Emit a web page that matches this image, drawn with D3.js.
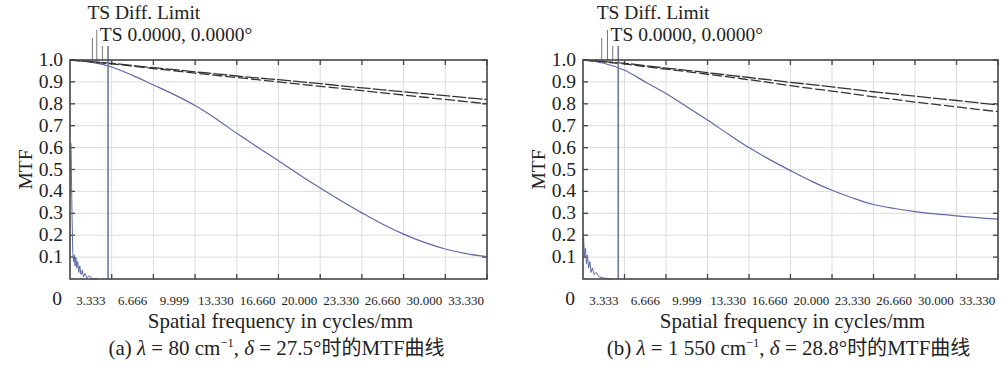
<!DOCTYPE html>
<html>
<head>
<meta charset="utf-8">
<script src="https://cdn.jsdelivr.net/npm/d3@7"></script>
<style>
  body { margin: 0; background: #fff; }
  svg text { font-family: "Liberation Serif", "Times New Roman", serif; fill: #222; }
  .cjk { font-family: "Noto Sans CJK SC", sans-serif; }
</style>
</head>
<body>
<div id="chart"></div>
<script>
// spatial frequency sample points (cycles/mm)
const freq = [0, 1.667, 3.333, 5, 6.666, 8.333, 9.999, 11.66, 13.33, 15, 16.66,
  18.33, 20, 21.66, 23.33, 25, 26.66, 28.33, 30, 31.66, 33.33];
const tickFreq = [3.333, 6.666, 9.999, 13.33, 16.66, 20, 23.33, 26.66, 30, 33.33];
const tickLabels = ['3.333', '6.666', '9.999', '13.330', '16.660', '20.000',
  '23.330', '26.660', '30.000', '33.330'];
const yTicks = [0.1, 0.2, 0.3, 0.4, 0.5, 0.6, 0.7, 0.8, 0.9, 1.0];

// (a) lambda = 80 cm-1
const aDiffT = [1, 0.993, 0.985, 0.975, 0.965, 0.956, 0.946, 0.937, 0.927, 0.918, 0.91,
  0.901, 0.892, 0.882, 0.873, 0.864, 0.855, 0.846, 0.837, 0.828, 0.82];
const aDiffS = [1, 0.991, 0.982, 0.972, 0.961, 0.951, 0.94, 0.93, 0.92, 0.91, 0.9,
  0.89, 0.88, 0.87, 0.86, 0.85, 0.84, 0.83, 0.82, 0.81, 0.80];
const aMtf = [1, 0.99, 0.968, 0.93, 0.886, 0.842, 0.792, 0.732, 0.665, 0.602, 0.54,
  0.476, 0.415, 0.357, 0.302, 0.25, 0.205, 0.167, 0.137, 0.116, 0.102];
const aNoiseF = [0.08, 0.16, 0.22, 0.28, 0.34, 0.40, 0.47, 0.54, 0.62, 0.70, 0.78,
  0.88, 0.98, 1.08, 1.2, 1.35, 1.55, 1.8, 2.2];
const aNoiseV = [0.62, 0.30, 0.12, 0.08, 0.11, 0.06, 0.10, 0.05, 0.08, 0.03, 0.06,
  0.02, 0.04, 0.01, 0.025, 0.005, 0.015, 0.0, 0.0];
const aMarks = [1.79, 2.14, 2.59, 3.04];

// (b) lambda = 1 550 cm-1
const bDiffT = [1, 0.993, 0.985, 0.974, 0.963, 0.953, 0.942, 0.931, 0.92, 0.909, 0.898,
  0.888, 0.877, 0.866, 0.855, 0.845, 0.835, 0.825, 0.815, 0.805, 0.795];
const bDiffS = [1, 0.991, 0.982, 0.97, 0.958, 0.947, 0.935, 0.923, 0.91, 0.897, 0.883,
  0.87, 0.858, 0.845, 0.832, 0.82, 0.808, 0.797, 0.786, 0.775, 0.764];
const bMtf = [1, 0.985, 0.953, 0.90, 0.847, 0.787, 0.726, 0.662, 0.60, 0.545, 0.495,
  0.447, 0.405, 0.37, 0.34, 0.322, 0.308, 0.297, 0.288, 0.28, 0.273];
const bNoiseF = [0.05, 0.12, 0.2, 0.28, 0.36, 0.45, 0.55, 0.65, 0.75, 0.9, 1.05,
  1.3, 1.6, 2.3];
const bNoiseV = [0.19, 0.10, 0.14, 0.07, 0.11, 0.05, 0.08, 0.03, 0.05, 0.02, 0.03,
  0.01, 0.005, 0.0];
const bMarks = [1.50, 1.97, 2.39, 2.83];

const svg = d3.select('#chart').append('svg')
  .attr('width', 1001)
  .attr('height', 369);

const panels = [
  { left: 70, right: 487, diffT: aDiffT, diffS: aDiffS, mtf: aMtf,
    noiseF: aNoiseF, noiseV: aNoiseV, marks: aMarks,
    caption: ['(a) ', 'λ', ' = 80 cm', '−1', ', ', 'δ', ' = 27.5°', '时的', 'MTF', '曲线'] },
  { left: 583, right: 998, diffT: bDiffT, diffS: bDiffS, mtf: bMtf,
    noiseF: bNoiseF, noiseV: bNoiseV, marks: bMarks,
    caption: ['(b) ', 'λ', ' = 1 550 cm', '−1', ', ', 'δ', ' = 28.8°', '时的', 'MTF', '曲线'] }
];

panels.forEach((p) => drawPanel(p));

function drawPanel(p) {
  const top = 60, bottom = 279;
  const x = d3.scaleLinear().domain([0, 33.33]).range([p.left, p.right]);
  const y = d3.scaleLinear().domain([0, 1]).range([bottom, top]);
  const g = svg.append('g');
  const half = (x(3.333) - x(0)) / 2;

  g.append('rect')
    .attr('x', p.left).attr('y', top)
    .attr('width', p.right - p.left).attr('height', bottom - top)
    .attr('fill', '#fff');

  // grid
  g.selectAll('.vg').data(tickFreq.slice(0, -1)).join('line')
    .attr('x1', (d) => x(d)).attr('x2', (d) => x(d))
    .attr('y1', top).attr('y2', bottom)
    .attr('stroke', '#dcdcdc').attr('stroke-width', 1);
  g.selectAll('.hg').data(yTicks.slice(0, -1)).join('line')
    .attr('x1', p.left).attr('x2', p.right)
    .attr('y1', (d) => y(d)).attr('y2', (d) => y(d))
    .attr('stroke', '#dcdcdc').attr('stroke-width', 1);

  // inward ticks on all four sides
  const tickCol = '#444';
  g.selectAll('.tb').data(tickFreq).join('line')
    .attr('x1', (d) => x(d)).attr('x2', (d) => x(d))
    .attr('y1', bottom).attr('y2', bottom - 5)
    .attr('stroke', tickCol).attr('stroke-width', 1.3);
  g.selectAll('.tt').data(tickFreq).join('line')
    .attr('x1', (d) => x(d)).attr('x2', (d) => x(d))
    .attr('y1', top).attr('y2', top + 5)
    .attr('stroke', tickCol).attr('stroke-width', 1.3);
  g.selectAll('.tl').data(yTicks).join('line')
    .attr('x1', p.left).attr('x2', p.left + 5)
    .attr('y1', (d) => y(d)).attr('y2', (d) => y(d))
    .attr('stroke', tickCol).attr('stroke-width', 1.3);
  g.selectAll('.tr').data(yTicks).join('line')
    .attr('x1', p.right).attr('x2', p.right - 5)
    .attr('y1', (d) => y(d)).attr('y2', (d) => y(d))
    .attr('stroke', tickCol).attr('stroke-width', 1.3);

  // curves
  const pts = (vals) => freq.map((f, i) => [f, vals[i]]);
  const smooth = d3.line()
    .x((d) => x(d[0]))
    .y((d) => y(d[1]))
    .curve(d3.curveCatmullRom);
  const plain = d3.line()
    .x((d) => x(d[0]))
    .y((d) => y(d[1]));

  g.append('path')
    .datum(p.noiseF.map((f, i) => [f, p.noiseV[i]]))
    .attr('fill', 'none')
    .attr('stroke', '#5d6aa6')
    .attr('stroke-width', 1)
    .attr('d', plain);

  g.append('path')
    .datum(pts(p.mtf))
    .attr('fill', 'none')
    .attr('stroke', '#5d6aa6')
    .attr('stroke-width', 1.2)
    .attr('d', smooth);

  g.append('path')
    .datum(pts(p.diffT))
    .attr('fill', 'none')
    .attr('stroke', '#333')
    .attr('stroke-width', 1.3)
    .attr('stroke-dasharray', '14,2')
    .attr('d', smooth);

  g.append('path')
    .datum(pts(p.diffS))
    .attr('fill', 'none')
    .attr('stroke', '#333')
    .attr('stroke-width', 1.3)
    .attr('stroke-dasharray', '10,3')
    .attr('d', smooth);

  // cursor line
  const cur = p.marks[3];
  g.append('line')
    .attr('x1', x(cur)).attr('x2', x(cur))
    .attr('y1', 46).attr('y2', bottom)
    .attr('stroke', '#6d7b98').attr('stroke-width', 1.6);

  // legend leader lines
  const leadTop = [38, 30, 46];
  p.marks.slice(0, 3).forEach((m, i) => {
    g.append('line')
      .attr('x1', x(m)).attr('x2', x(m))
      .attr('y1', leadTop[i]).attr('y2', top)
      .attr('stroke', '#777').attr('stroke-width', 1);
  });

  // frame
  g.append('rect')
    .attr('x', p.left).attr('y', top)
    .attr('width', p.right - p.left).attr('height', bottom - top)
    .attr('fill', 'none')
    .attr('stroke', '#444')
    .attr('stroke-width', 1.6);

  // legend texts
  g.append('text')
    .attr('x', x(p.marks[0]) - 5).attr('y', 19)
    .attr('font-size', 19.5)
    .text('TS Diff. Limit');
  g.append('text')
    .attr('x', x(p.marks[1]) + 3).attr('y', 40.5)
    .attr('font-size', 19.5)
    .text('TS 0.0000, 0.0000°');

  // y tick labels
  g.selectAll('.yl').data(yTicks).join('text')
    .attr('x', p.left - 7)
    .attr('y', (d) => y(d) + 6)
    .attr('text-anchor', 'end')
    .attr('font-size', 19.5)
    .text((d) => d.toFixed(1));
  g.append('text')
    .attr('x', p.left - 13).attr('y', 305)
    .attr('text-anchor', 'middle')
    .attr('font-size', 19.5)
    .text('0');

  // x tick labels (centred between ticks)
  g.selectAll('.xl').data(tickFreq).join('text')
    .attr('x', (d) => x(d) - half)
    .attr('y', 304.5)
    .attr('text-anchor', 'middle')
    .attr('font-size', 13)
    .text((d, i) => tickLabels[i]);

  // axis titles
  g.append('text')
    .attr('transform', `translate(${p.left - 38}, ${(top + bottom) / 2}) rotate(-90)`)
    .attr('text-anchor', 'middle')
    .attr('font-size', 19.5)
    .text('MTF');
  const cx = (p.left + p.right) / 2;
  g.append('text')
    .attr('x', cx + 2).attr('y', 328)
    .attr('text-anchor', 'middle')
    .attr('font-size', 21)
    .text('Spatial frequency in cycles/mm');

  // caption
  const c = p.caption;
  const cap = g.append('text')
    .attr('x', cx - 2).attr('y', 355)
    .attr('text-anchor', 'middle')
    .attr('font-size', 21);
  cap.append('tspan').text(c[0]);
  cap.append('tspan').attr('font-style', 'italic').text(c[1]);
  cap.append('tspan').text(c[2]);
  cap.append('tspan').attr('font-size', 12.5).attr('dy', -8).text(c[3]);
  cap.append('tspan').attr('dy', 8).text(c[4]);
  cap.append('tspan').attr('font-style', 'italic').text(c[5]);
  cap.append('tspan').text(c[6]);
  cap.append('tspan').attr('class', 'cjk').attr('font-size', 20).text(c[7]);
  cap.append('tspan').text(c[8]);
  cap.append('tspan').attr('class', 'cjk').attr('font-size', 20).text(c[9]);
}
</script>
</body>
</html>
